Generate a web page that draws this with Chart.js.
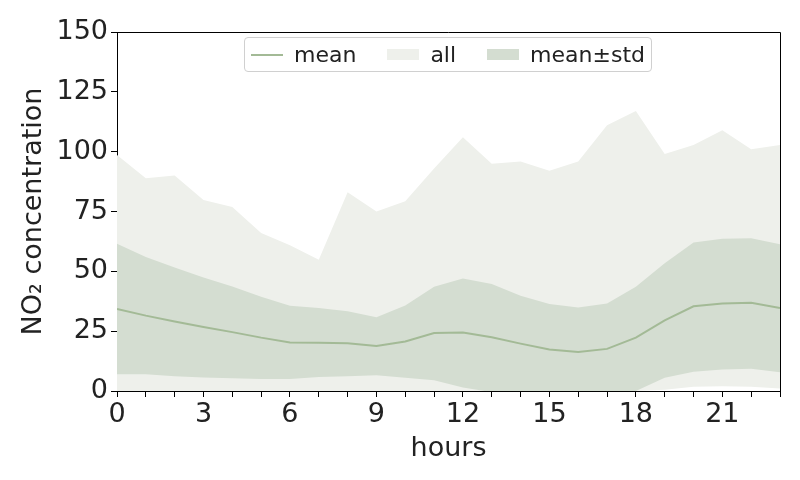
<!DOCTYPE html>
<html>
<head>
<meta charset="utf-8">
<script src="https://cdn.jsdelivr.net/npm/chart.js@4"></script>
<style>
  body { margin: 0; background: #fff; }
  #wrap { position: relative; width: 800px; height: 480px; }
  #legend {
    position: absolute; left: 244px; top: 37px; height: 33px;
    display: flex; align-items: center; padding: 0 6px;
    border: 1px solid #d0d0d0; border-radius: 4px; background: rgba(255,255,255,0.8);
    font-family: "DejaVu Sans", sans-serif; font-size: 22px; color: #222;
  }
  .item { display: flex; align-items: center; margin-right: 31px; }
  .item:last-child { margin-right: 0; }
  .mark { width: 32px; margin-right: 11px; }
</style>
</head>
<body>
<div id="wrap">
  <canvas id="chart" width="800" height="480"></canvas>
  <div id="legend"></div>
</div>
<script>
// hourly NO2 profile
const hours = [0, 1, 2, 3, 4, 5, 6, 7, 8, 9, 10, 11, 12, 13, 14, 15, 16, 17, 18, 19, 20, 21, 22, 23];
const meanValues = [34.3, 31.5, 29, 26.7, 24.6, 22.3, 20.3, 20.2, 20, 18.8, 20.7, 24.2, 24.4, 22.5, 19.8, 17.3, 16.3, 17.6, 22.3, 29.5, 35.4, 36.6, 36.9, 34.7];
const stdUpper = [61.5, 56, 51.6, 47.4, 43.7, 39.4, 35.6, 34.7, 33.3, 30.8, 35.7, 43.6, 47, 44.7, 39.8, 36.4, 34.9, 36.6, 43.6, 53.4, 62, 63.6, 63.8, 61.3];
const stdLower = [7, 7, 6.2, 5.6, 5.3, 5, 5, 5.8, 6.2, 6.6, 5.5, 4.5, 1.5, -0.5, -1, -2, -2.5, -1.5, 0, 5.5, 8, 9, 9.3, 7.8];
const allMax = [98.6, 88.9, 90, 79.8, 76.9, 66, 60.9, 54.8, 83, 75, 79.3, 93, 106, 94.9, 95.9, 92, 95.9, 111, 117, 99, 102.8, 109, 101, 102.8];
const allMin = [0, 0, 0, 0, 0, 0, 0, 0, 0, 0, 0, 0, 0, 0, 0, 0, 0, 0, 0, 0.5, 1.8, 2, 1.8, 1];
const yTicks = [0, 25, 50, 75, 100, 125, 150];

const lineColor = "rgb(163,186,150)";
const allColor = "#eef0eb";
const bandColor = "#d4ddd1";
const textColor = "#222";

const pts = (arr) => hours.map((h, i) => ({ x: h, y: arr[i] }));

// top and right spines
const frame = {
  id: "frame",
  afterDraw(chart) {
    const { ctx, chartArea: a } = chart;
    ctx.save();
    ctx.strokeStyle = "#000";
    ctx.lineWidth = 1;
    ctx.beginPath();
    ctx.moveTo(a.left, a.top + 0.5);
    ctx.lineTo(a.right + 0.5, a.top + 0.5);
    ctx.lineTo(a.right + 0.5, a.bottom);
    ctx.stroke();
    ctx.restore();
  },
};

const tickFont = { family: "DejaVu Sans", size: 27 };

const chart = new Chart(document.getElementById("chart"), {
  type: "line",
  data: {
    datasets: [
      { label: "mean", data: pts(meanValues), borderColor: lineColor, borderWidth: 2, pointRadius: 0, fill: false, order: 0, tension: 0 },
      { label: "mean±std", data: pts(stdUpper), borderWidth: 0, pointRadius: 0, backgroundColor: bandColor, fill: "+1", order: 1 },
      { label: "_lower", data: pts(stdLower), borderWidth: 0, pointRadius: 0, fill: false, order: 1 },
      { label: "all", data: pts(allMax), borderWidth: 0, pointRadius: 0, backgroundColor: allColor, fill: "+1", order: 2 },
      { label: "_min", data: pts(allMin), borderWidth: 0, pointRadius: 0, fill: false, order: 2 },
    ],
  },
  options: {
    responsive: false,
    animation: false,
    layout: { padding: { top: 32, right: 20, left: 0, bottom: 0 } },
    plugins: { legend: { display: false }, tooltip: { enabled: false } },
    scales: {
      x: {
        type: "linear",
        min: 0,
        max: 23,
        afterFit: (s) => { s.height = 89; },
        afterBuildTicks: (s) => { s.ticks = hours.map((h) => ({ value: h })); },
        ticks: {
          autoSkip: false,
          maxRotation: 0,
          color: textColor,
          font: tickFont,
          padding: 2,
          callback: (v) => (v % 3 === 0 ? v : ""),
        },
        grid: { drawOnChartArea: false, drawTicks: true, tickLength: 6, color: "#000" },
        border: { display: true, color: "#000", width: 1 },
        title: { display: true, text: "hours", color: textColor, font: tickFont, padding: { top: 0, bottom: 15 } },
      },
      y: {
        min: 0,
        max: 150,
        afterFit: (s) => { s.width = 117; },
        afterBuildTicks: (s) => { s.ticks = yTicks.map((v) => ({ value: v })); },
        ticks: { color: textColor, font: tickFont, padding: 3 },
        grid: { drawOnChartArea: false, drawTicks: true, tickLength: 6, color: "#000" },
        border: { display: true, color: "#000", width: 1 },
        title: { display: true, text: "NO₂ concentration", color: textColor, font: tickFont, padding: { top: 18, bottom: 0 } },
      },
    },
  },
  plugins: [frame],
});

// legend inside the plot, upper centre
const legendOrder = ["mean", "all", "mean±std"];
const legendEl = document.getElementById("legend");
legendOrder.forEach((name) => {
  const ds = chart.data.datasets.find((d) => d.label === name);
  const mark = ds.fill
    ? `<span class="mark" style="height:11px;background:${ds.backgroundColor}"></span>`
    : `<span class="mark" style="height:2px;background:${ds.borderColor}"></span>`;
  legendEl.insertAdjacentHTML("beforeend", `<div class="item">${mark}<span>${name}</span></div>`);
});
</script>
</body>
</html>
